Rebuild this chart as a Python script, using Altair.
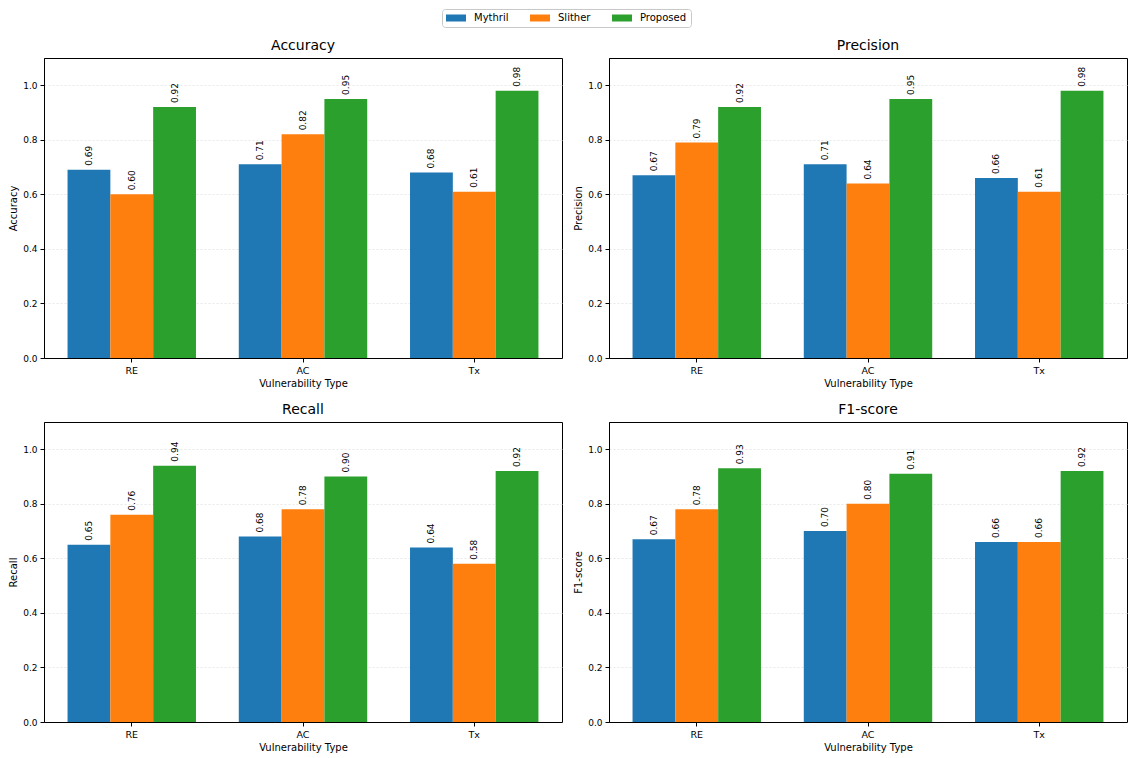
import altair as alt
import pandas as pd

types = ["RE", "AC", "Tx"]
tools = ["Mythril", "Slither", "Proposed"]
colors = ["#1f77b4", "#ff7f0e", "#2ca02c"]
metrics = ["Accuracy", "Precision", "Recall", "F1-score"]

accuracy_mythril = [0.69, 0.71, 0.68]
accuracy_slither = [0.60, 0.82, 0.61]
accuracy_proposed = [0.92, 0.95, 0.98]

precision_mythril = [0.67, 0.71, 0.66]
precision_slither = [0.79, 0.64, 0.61]
precision_proposed = [0.92, 0.95, 0.98]

recall_mythril = [0.65, 0.68, 0.64]
recall_slither = [0.76, 0.78, 0.58]
recall_proposed = [0.94, 0.90, 0.92]

f1_mythril = [0.67, 0.70, 0.66]
f1_slither = [0.78, 0.80, 0.66]
f1_proposed = [0.93, 0.91, 0.92]

series = {
    "Accuracy": [accuracy_mythril, accuracy_slither, accuracy_proposed],
    "Precision": [precision_mythril, precision_slither, precision_proposed],
    "Recall": [recall_mythril, recall_slither, recall_proposed],
    "F1-score": [f1_mythril, f1_slither, f1_proposed],
}

FONT = "DejaVu Sans"
W, H = 518, 300


def panel(metric):
    rows = []
    for tool, vals in zip(tools, series[metric]):
        for t, v in zip(types, vals):
            rows.append({"type": t, "tool": tool, "value": v})
    df = pd.DataFrame(rows)
    base = alt.Chart(df).encode(
        x=alt.X(
            "type:N",
            sort=types,
            scale=alt.Scale(paddingInner=0.25, paddingOuter=0.1375),
            axis=alt.Axis(title="Vulnerability Type", labelAngle=0, grid=False, labelFontSize=9.5),
        ),
        xOffset=alt.XOffset(
            "tool:N", sort=tools, scale=alt.Scale(paddingInner=0, paddingOuter=0)
        ),
        y=alt.Y(
            "value:Q",
            scale=alt.Scale(domain=[0, 1.1], nice=False, zero=True),
            axis=alt.Axis(
                title=metric,
                values=[0, 0.2, 0.4, 0.6, 0.8, 1.0],
                format=".1f",
                grid=True,
                gridColor="#e2e2e2",
                gridDash=[2, 2],
                gridWidth=0.8,
            ),
        ),
    )
    bars = base.mark_bar().encode(
        color=alt.Color(
            "tool:N",
            sort=tools,
            scale=alt.Scale(domain=tools, range=colors),
            legend=alt.Legend(
                title=None,
                orient="none",
                direction="horizontal",
                legendX=398,
                legendY=-49,
                symbolType="M-2,-0.7H2V0.7H-2Z",
                symbolSize=100,
                symbolOffset=5,
                symbolStrokeWidth=0,
                labelOffset=13,
                columnPadding=21,
                padding=4,
                strokeColor="#c8c8c8",
                cornerRadius=3,
                fillColor="white",
                labelFontSize=10,
                labelFont=FONT,
                labelColor="black",
            ),
        )
    )
    text = base.mark_text(
        angle=270, align="left", baseline="middle", dx=4, fontSize=9, font=FONT, color="black"
    ).encode(text=alt.Text("value:Q", format=".2f"))
    return alt.layer(bars, text).properties(
        width=W,
        height=H,
        title=alt.TitleParams(metric, fontSize=14, fontWeight="normal", font=FONT, color="black", offset=5),
    )


row1 = alt.hconcat(panel("Accuracy"), panel("Precision"), spacing=10)
row2 = alt.hconcat(panel("Recall"), panel("F1-score"), spacing=10)
chart = (
    alt.vconcat(row1, row2, spacing=13)
    .properties(padding=0)
    .configure(font=FONT)
    .configure_view(stroke="black", strokeWidth=1)
    .configure_legend(strokeColor="#c8c8c8")
    .configure_axis(
        domainColor="black",
        domainWidth=1,
        tickColor="black",
        tickSize=4,
        labelPadding=3,
        labelFontSize=9,
        labelColor="black",
        labelFont=FONT,
        titleFont=FONT,
        titleFontSize=10,
        titleFontWeight="normal",
        titleColor="black",
        titlePadding=4,
    )
)

chart.save("out.html", embed_options={"renderer": "svg", "actions": False})
